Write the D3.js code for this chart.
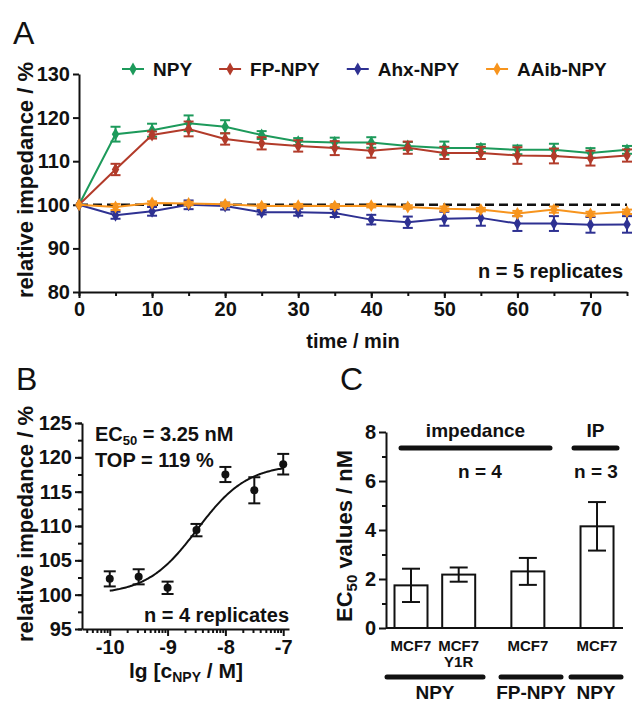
<!DOCTYPE html>
<html>
<head>
<meta charset="utf-8">
<script src="https://cdn.jsdelivr.net/npm/d3@7"></script>
<style>
  body { margin: 0; background: #fff; }
  svg { display: block; }
  text { font-family: "Liberation Sans", Arial, sans-serif; font-weight: bold; fill: #111; }
  .domain, .tick line { stroke: #111; stroke-width: 2; }
</style>
</head>
<body>
<div id="chart"></div>
<script>
// --- data A: relative impedance over time
const timeMin = [0, 5, 10, 15, 20, 25, 30, 35, 40, 45, 50, 55, 60, 65, 70, 75];
const npyMean  = [100, 116.2, 117.1, 118.7, 117.9, 116.0, 114.5, 114.3, 114.3, 113.5, 113.0, 113.0, 112.6, 112.6, 111.9, 112.6];
const npyErr   = [0, 1.7, 1.5, 1.8, 1.5, 0.9, 0.8, 1.1, 1.2, 0.9, 1.5, 0.9, 1.0, 1.4, 1.1, 0.9];
const fpMean   = [100, 108.1, 116.0, 117.4, 115.1, 114.1, 113.5, 113.0, 112.4, 113.1, 111.9, 111.9, 111.3, 111.2, 110.7, 111.3];
const fpErr    = [0, 1.3, 0.8, 1.7, 1.3, 1.4, 1.3, 1.6, 1.6, 1.4, 1.4, 1.4, 1.9, 1.7, 1.7, 1.4];
const ahxMean  = [100, 97.6, 98.5, 100.0, 99.7, 98.3, 98.3, 98.1, 96.6, 96.0, 96.8, 97.0, 95.7, 95.7, 95.4, 95.5];
const ahxErr   = [0, 0.8, 1.0, 1.0, 0.8, 0.5, 0.8, 0.9, 1.1, 1.3, 1.6, 1.8, 1.7, 1.7, 1.8, 1.9];
const aaibMean = [100, 99.5, 100.4, 100.3, 100.1, 99.7, 99.8, 99.7, 99.8, 99.5, 99.1, 98.9, 98.0, 98.9, 97.9, 98.4];
const aaibErr  = [0, 0.7, 0.4, 0.4, 0.4, 0.4, 0.4, 0.4, 0.4, 0.4, 0.5, 0.4, 0.6, 0.7, 0.5, 0.5];
const seriesNames  = ["NPY", "FP-NPY", "Ahx-NPY", "AAib-NPY"];
const seriesColors = ["#1d9a5b", "#b23b2a", "#2e3192", "#f7941d"];

// --- data B: concentration response
const lgConc = [-10, -9.5, -9, -8.5, -8, -7.5, -7];
const respMean = [102.3, 102.6, 101.0, 109.4, 117.5, 115.2, 119.0];
const respErr  = [1.1, 1.1, 0.9, 0.9, 1.1, 1.9, 1.5];
const fitBottom = 100, fitTop = 119, fitLogEC50 = Math.log10(3.25e-9), fitHill = 1;

// --- data C: EC50 values
const ecLabels = [["MCF7"], ["MCF7", "Y1R"], ["MCF7"], ["MCF7"]];
const ecMean = [1.74, 2.18, 2.31, 4.15];
const ecErr  = [0.68, 0.29, 0.55, 0.99];
const ecLigand = ["NPY", "NPY", "FP-NPY", "NPY"];
const ecMethod = ["impedance", "impedance", "impedance", "IP"];
const ecN = ["n = 4", "n = 4", "n = 4", "n = 3"];

const svg = d3.select("#chart").append("svg")
  .attr("width", 640).attr("height", 712);

// helper: axis styling
function styleAxis(g, size) {
  g.selectAll(".tick text").style("font-size", size + "px").attr("fill", "#111");
}

// panel letters
[["A", 13, 44], ["B", 16, 390], ["C", 340, 390]].forEach(([t, x, y]) => {
  svg.append("text").attr("x", x).attr("y", y).text(t)
    .style("font-size", "32px").style("font-weight", "normal");
});

// ================= Panel A =================
const xA = d3.scaleLinear().domain([0, 75]).range([79, 627]);
const yA = d3.scaleLinear().domain([80, 130]).range([292, 74]);

svg.append("g").attr("transform", `translate(0,${yA(80)})`)
  .call(d3.axisBottom(xA).tickValues(d3.range(0, 80, 5)).tickSize(4).tickFormat(""))
  .call(g => g.select(".domain").remove());
svg.append("g").attr("transform", `translate(0,${yA(80)})`)
  .call(d3.axisBottom(xA).tickValues(d3.range(0, 71, 10)).tickSize(6).tickSizeOuter(0).tickPadding(4))
  .call(g => styleAxis(g, 20));
svg.append("g").attr("transform", `translate(${xA(0)},0)`)
  .call(d3.axisLeft(yA).tickValues(d3.range(80, 131, 10)).tickSize(6).tickSizeOuter(0).tickPadding(3))
  .call(g => styleAxis(g, 20));

// dashed baseline
svg.append("line")
  .attr("x1", xA(0)).attr("x2", xA(75)).attr("y1", yA(100)).attr("y2", yA(100))
  .attr("stroke", "#111").attr("stroke-width", 2.5).attr("stroke-dasharray", "9,5");

const seriesA = [
  { mean: npyMean, err: npyErr },
  { mean: fpMean, err: fpErr },
  { mean: ahxMean, err: ahxErr },
  { mean: aaibMean, err: aaibErr }
];
const diamond = d3.symbol().type(d3.symbolDiamond).size(48);
const lineA = d3.line().x(d => xA(d.t)).y(d => yA(d.m));

seriesA.forEach((s, k) => {
  const pts = timeMin.map((t, i) => ({ t, m: s.mean[i], e: s.err[i] }));
  const col = seriesColors[k];
  const g = svg.append("g");
  g.append("path").datum(pts).attr("d", lineA)
    .attr("fill", "none").attr("stroke", col).attr("stroke-width", 2);
  const eb = g.selectAll(".eb").data(pts.filter(d => d.e > 0)).join("g");
  eb.append("line")
    .attr("x1", d => xA(d.t)).attr("x2", d => xA(d.t))
    .attr("y1", d => yA(d.m - d.e)).attr("y2", d => yA(d.m + d.e))
    .attr("stroke", col).attr("stroke-width", 2);
  [-1, 1].forEach(sg => {
    eb.append("line")
      .attr("x1", d => xA(d.t) - 5).attr("x2", d => xA(d.t) + 5)
      .attr("y1", d => yA(d.m + sg * d.e)).attr("y2", d => yA(d.m + sg * d.e))
      .attr("stroke", col).attr("stroke-width", 2);
  });
  g.selectAll(".pt").data(pts).join("path")
    .attr("d", diamond)
    .attr("transform", d => `translate(${xA(d.t)},${yA(d.m)})`)
    .attr("fill", col);
});

// legend
let lx = 122;
seriesNames.forEach((name, k) => {
  const lg = svg.append("g").attr("transform", `translate(${lx},69)`);
  lg.append("line").attr("x1", 0).attr("x2", 22).attr("stroke", seriesColors[k]).attr("stroke-width", 2);
  lg.append("path").attr("d", diamond).attr("transform", "translate(11,0)").attr("fill", seriesColors[k]);
  const t = lg.append("text").attr("x", 31).attr("y", 7).text(name).style("font-size", "19px");
  lx += 31 + t.node().getComputedTextLength() + 27;
});

svg.append("text").attr("x", 623).attr("y", 278).attr("text-anchor", "end")
  .style("font-size", "20px").text("n = 5 replicates");
svg.append("text").attr("x", 353).attr("y", 348).attr("text-anchor", "middle")
  .style("font-size", "20px").text("time / min");
svg.append("text").attr("transform", "translate(33,180) rotate(-90)")
  .attr("text-anchor", "middle").style("font-size", "22px").text("relative impedance / %");

// ================= Panel B =================
const xB = d3.scaleLinear().domain([-10.48, -6.9]).range([82, 289]);
const yB = d3.scaleLinear().domain([95, 125]).range([629, 423]);

const minorB = [];
[-11, -10, -9, -8, -7].forEach(dec => {
  d3.range(2, 10).forEach(k => {
    const v = dec + Math.log10(k);
    if (v > xB.domain()[0] && v < xB.domain()[1]) minorB.push(v);
  });
});
svg.append("g").attr("transform", `translate(0,${yB(95)})`)
  .call(d3.axisBottom(xB).tickValues(minorB).tickSize(4).tickFormat(""))
  .call(g => g.select(".domain").remove());
svg.append("g").attr("transform", `translate(0,${yB(95)})`)
  .call(d3.axisBottom(xB).tickValues([-10, -9, -8, -7]).tickFormat(d => String(d))
    .tickSize(7).tickSizeOuter(0).tickPadding(4))
  .call(g => styleAxis(g, 20));
svg.append("g").attr("transform", `translate(${xB.range()[0]},0)`)
  .call(d3.axisLeft(yB).tickValues(d3.range(95, 125.1, 2.5)).tickSize(4).tickFormat(""))
  .call(g => g.select(".domain").remove());
svg.append("g").attr("transform", `translate(${xB.range()[0]},0)`)
  .call(d3.axisLeft(yB).tickValues(d3.range(95, 126, 5)).tickSize(7).tickSizeOuter(0).tickPadding(3))
  .call(g => styleAxis(g, 20));

// fitted sigmoid
const fit = x => fitBottom + (fitTop - fitBottom) / (1 + Math.pow(10, (fitLogEC50 - x) * fitHill));
const curveX = d3.range(-10, -6.999, 0.02);
svg.append("path").datum(curveX)
  .attr("d", d3.line().x(d => xB(d)).y(d => yB(fit(d))))
  .attr("fill", "none").attr("stroke", "#111").attr("stroke-width", 2);

const ptsB = lgConc.map((c, i) => ({ c, m: respMean[i], e: respErr[i] }));
const ebB = svg.append("g").selectAll("g").data(ptsB).join("g");
ebB.append("line")
  .attr("x1", d => xB(d.c)).attr("x2", d => xB(d.c))
  .attr("y1", d => yB(d.m - d.e)).attr("y2", d => yB(d.m + d.e))
  .attr("stroke", "#111").attr("stroke-width", 2);
[-1, 1].forEach(sg => {
  ebB.append("line")
    .attr("x1", d => xB(d.c) - 6).attr("x2", d => xB(d.c) + 6)
    .attr("y1", d => yB(d.m + sg * d.e)).attr("y2", d => yB(d.m + sg * d.e))
    .attr("stroke", "#111").attr("stroke-width", 2);
});
ebB.append("circle").attr("cx", d => xB(d.c)).attr("cy", d => yB(d.m)).attr("r", 4).attr("fill", "#111");

const ec = svg.append("text").attr("x", 95).attr("y", 441).style("font-size", "20px");
ec.append("tspan").text("EC");
ec.append("tspan").attr("dy", 4).style("font-size", "13px").text("50");
ec.append("tspan").attr("dy", -4).text(" = 3.25 nM");
svg.append("text").attr("x", 95).attr("y", 467).style("font-size", "20px").text("TOP = 119 %");
svg.append("text").attr("x", 289).attr("y", 622).attr("text-anchor", "end")
  .style("font-size", "20px").text("n = 4 replicates");

const xtB = svg.append("text").attr("x", 186).attr("y", 678).attr("text-anchor", "middle").style("font-size", "21px");
xtB.append("tspan").text("lg [c");
xtB.append("tspan").attr("dy", 4).style("font-size", "14px").text("NPY");
xtB.append("tspan").attr("dy", -4).text(" / M]");
svg.append("text").attr("transform", "translate(33,524) rotate(-90)")
  .attr("text-anchor", "middle").style("font-size", "22px").text("relative impedance / %");

// ================= Panel C =================
const yC = d3.scaleLinear().domain([0, 8]).range([628, 432]);
// bar slots: groups separated by a small gap
const groupOf = ecLigand.map((l, i) => ecMethod[i] + "|" + l);
const slot = [];
groupOf.forEach((gname, i) => {
  const gi = [...new Set(groupOf.slice(0, i + 1))].length - 1;
  slot.push(i + gi * 0.45);
});
const xC = d3.scaleLinear().domain([0, 1]).range([411, 458.7]);
const barW = 33;

svg.append("g").attr("transform", `translate(386,0)`)
  .call(d3.axisLeft(yC).tickValues([1, 3, 5, 7]).tickSize(4).tickFormat(""))
  .call(g => g.select(".domain").remove());
svg.append("g").attr("transform", `translate(386,0)`)
  .call(d3.axisLeft(yC).tickValues([0, 2, 4, 6, 8]).tickSize(7).tickSizeOuter(0).tickPadding(3))
  .call(g => styleAxis(g, 20));
svg.append("line").attr("x1", 386).attr("x2", 623).attr("y1", yC(0)).attr("y2", yC(0))
  .attr("stroke", "#111").attr("stroke-width", 2);

const barsC = ecMean.map((m, i) => ({ m, e: ecErr[i], x: xC(slot[i]), lab: ecLabels[i] }));
svg.append("g").selectAll("rect").data(barsC).join("rect")
  .attr("x", d => d.x - barW / 2).attr("width", barW)
  .attr("y", d => yC(d.m)).attr("height", d => yC(0) - yC(d.m))
  .attr("fill", "#fff").attr("stroke", "#111").attr("stroke-width", 2);
const ebC = svg.append("g").selectAll("g").data(barsC).join("g");
ebC.append("line")
  .attr("x1", d => d.x).attr("x2", d => d.x)
  .attr("y1", d => yC(d.m - d.e)).attr("y2", d => yC(d.m + d.e))
  .attr("stroke", "#111").attr("stroke-width", 2);
[-1, 1].forEach(sg => {
  ebC.append("line")
    .attr("x1", d => d.x - 9).attr("x2", d => d.x + 9)
    .attr("y1", d => yC(d.m + sg * d.e)).attr("y2", d => yC(d.m + sg * d.e))
    .attr("stroke", "#111").attr("stroke-width", 2);
});

// category labels
barsC.forEach(d => {
  d.lab.forEach((t, j) => {
    svg.append("text").attr("x", d.x).attr("y", 651 + j * 16).attr("text-anchor", "middle")
      .style("font-size", "15px").text(t);
  });
});

// group bars (top: method, bottom: ligand)
function bracket(y, x1, x2, label, ly, size) {
  svg.append("line").attr("x1", x1).attr("x2", x2).attr("y1", y).attr("y2", y)
    .attr("stroke", "#111").attr("stroke-width", 5).attr("stroke-linecap", "round");
  svg.append("text").attr("x", (x1 + x2) / 2).attr("y", ly).attr("text-anchor", "middle")
    .style("font-size", size + "px").text(label);
}
bracket(448, 401, 550, "impedance", 437, 19);
bracket(448, 574, 617, "IP", 437, 19);
svg.append("text").attr("x", 480).attr("y", 478).attr("text-anchor", "middle").style("font-size", "19px").text(ecN[0]);
svg.append("text").attr("x", 596).attr("y", 478).attr("text-anchor", "middle").style("font-size", "19px").text(ecN[3]);

bracket(677, 387, 483, ecLigand[0], 699, 19);
bracket(677, 501, 561, ecLigand[2], 699, 19);
bracket(677, 571, 621, ecLigand[3], 699, 19);

const ytC = svg.append("text").attr("transform", "translate(352,536) rotate(-90)")
  .attr("text-anchor", "middle").style("font-size", "22px");
ytC.append("tspan").text("EC");
ytC.append("tspan").attr("dy", 5).style("font-size", "15px").text("50");
ytC.append("tspan").attr("dy", -5).text(" values / nM");
</script>
</body>
</html>
